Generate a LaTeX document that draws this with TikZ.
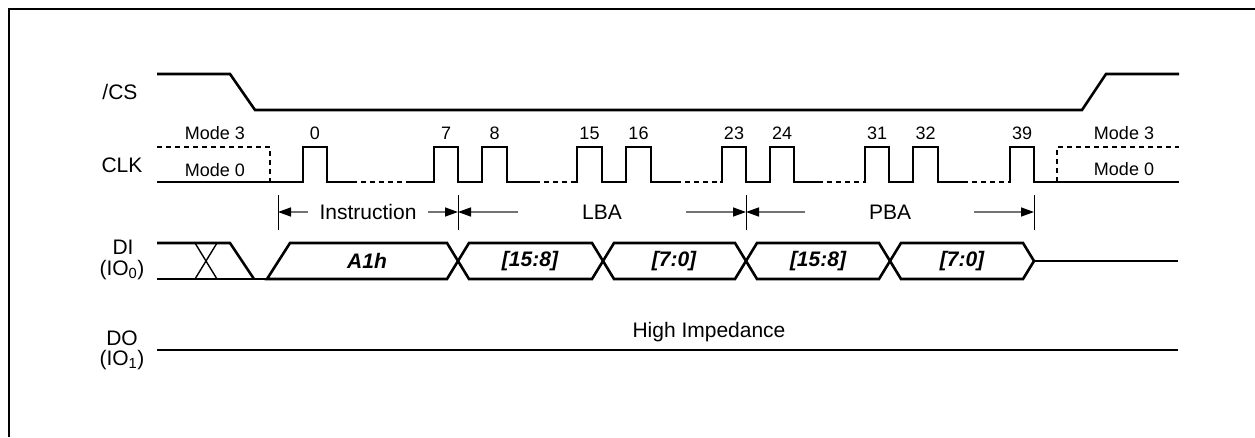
\documentclass[tikz,border=0pt]{standalone}
\usepackage{fontspec}
\setmainfont{Liberation Sans}
\usetikzlibrary{arrows.meta}
\begin{document}
\begin{tikzpicture}[x=1pt,y=-1pt,
  sig/.style={line width=2.6pt, line join=miter},
  dsh/.style={line width=2.4pt, dash pattern=on 5pt off 4pt},
  thinx/.style={line width=1.4pt},
  lbl/.style={font=\fontsize{21}{23}\selectfont, inner sep=0pt},
  num/.style={font=\fontsize{18}{20}\selectfont, inner sep=0pt},
  bus/.style={font=\bfseries\itshape\fontsize{21}{23}\selectfont, inner sep=0pt},
  tickln/.style={line width=1pt},
  dim/.style={line width=1.5pt, draw=black!55, -{Triangle[length=13pt,width=9pt,color=black]}},
  frameln/.style={line width=2.5pt}]
\useasboundingbox (0,0) rectangle (1255,437);
% frame
\draw[frameln] (9,437) -- (9,9) -- (1260,9);

% signal names
\node[lbl] (ncs) at (120,92) {/CS};
\node[lbl] (nclk) at (122,165) {CLK};
\node[lbl] (ndi) at (123,247) {DI};
\node[lbl] (ndio) at (122,270) {(IO\textsubscript{0})};
\node[lbl] (ndo) at (122,338) {DO};
\node[lbl] (ndoo) at (122,360) {(IO\textsubscript{1})};

% /CS
\draw[sig] (157,74) -- (230,74) -- (255,110) -- (1082,110) -- (1106,74) -- (1179,74);

% CLK modes
\draw[dsh] (157,147) -- (270,147) -- (270,182);
\draw[dsh] (1057,182) -- (1057,147) -- (1179,147);
\node[num] (m3l) at (215,133) {Mode 3};
\node[num] (m0l) at (215,170) {Mode 0};
\node[num] (m3r) at (1124,133) {Mode 3};
\node[num] (m0r) at (1124,169) {Mode 0};

% CLK pulses
\draw[sig] (157,182) -- (303,182) -- (303,147) -- (327,147) -- (327,182) -- (352,182);
\draw[dsh] (352,182) -- (407,182);
\draw[sig] (407,182) -- (434,182) -- (434,147) -- (458,147) -- (458,182) -- (482,182) -- (482,147) -- (507,147) -- (507,182) -- (535,182);
\draw[dsh] (535,182) -- (577,182);
\draw[sig] (575,182) -- (577,182) -- (577,147) -- (602,147) -- (602,182) -- (626,182) -- (626,147) -- (651,147) -- (651,182) -- (676,182);
\draw[dsh] (676,182) -- (720,182);
\draw[sig] (720,182) -- (722,182) -- (722,147) -- (746,147) -- (746,182) -- (770,182) -- (770,147) -- (794,147) -- (794,182) -- (818,182);
\draw[dsh] (818,182) -- (863,182);
\draw[sig] (863,182) -- (865,182) -- (865,147) -- (889,147) -- (889,182) -- (913,182) -- (913,147) -- (938,147) -- (938,182) -- (963,182);
\draw[dsh] (963,182) -- (1008,182);
\draw[sig] (1008,182) -- (1010,182) -- (1010,147) -- (1034,147) -- (1034,182) -- (1179,182);

% pulse numbers
\node[num] (p0) at (315,133) {0};
\node[num] (p7) at (446,133) {7};
\node[num] (p8) at (494.5,133) {8};
\node[num] (p15) at (589.5,133) {15};
\node[num] (p16) at (638.5,133) {16};
\node[num] (p23) at (734,133) {23};
\node[num] (p24) at (782,133) {24};
\node[num] (p31) at (877,133) {31};
\node[num] (p32) at (925.5,133) {32};
\node[num] (p39) at (1022,133) {39};

% dimension ticks
\coordinate (t0) at (278,212);
\coordinate (t1) at (458,212);
\coordinate (t2) at (746,212);
\coordinate (t3) at (1034,212);
\draw[tickln] (278,195) -- (278,230);
\draw[tickln] (458,195) -- (458,230);
\draw[tickln] (746,195) -- (746,230);
\draw[tickln] (1034,195) -- (1034,230);
\node[lbl] (instr) at (368,212) {Instruction};
\node[lbl] (lba) at (602,212) {LBA};
\node[lbl] (pba) at (890,212) {PBA};
\coordinate (a1) at (308,212);
\coordinate (a2) at (428,212);
\coordinate (a3) at (518,212);
\coordinate (a4) at (686,212);
\coordinate (a5) at (805,212);
\coordinate (a6) at (974,212);
\draw[dim] (a1) -- (t0);
\draw[dim] (a2) -- (t1);
\draw[dim] (a3) -- (t1);
\draw[dim] (a4) -- (t2);
\draw[dim] (a5) -- (t2);
\draw[dim] (a6) -- (t3);

% DI bus
\draw[sig] (157,243) -- (230,243) -- (254,279);
\draw[sig] (157,279) -- (267,279);
\draw[thinx] (195,243) -- (217,279) (217,243) -- (195,279);
\draw[sig] (267,279) -- (290,243) -- (447,243) -- (458,261) -- (447,279) -- cycle;
\foreach \a/\b in {458/603, 603/746, 746/890, 890/1034}{
  \draw[sig] (\a,261) -- (\a+11,243) -- (\b-11,243) -- (\b,261) -- (\b-11,279) -- (\a+11,279) -- cycle;
}
\draw[sig] (1034,261) -- (1178,261);
\node[bus] (b1) at (367,261) {A1h};
\node[bus] (b2) at (530,261) {[15:8]};
\node[bus] (b3) at (674,261) {[7:0]};
\node[bus] (b4) at (818,261) {[15:8]};
\node[bus] (b5) at (962,261) {[7:0]};

% DO
\draw[sig] (157,350) -- (1178,350);
\node[lbl] (hz) at (709,332) {High Impedance};
\end{tikzpicture}
\end{document}
